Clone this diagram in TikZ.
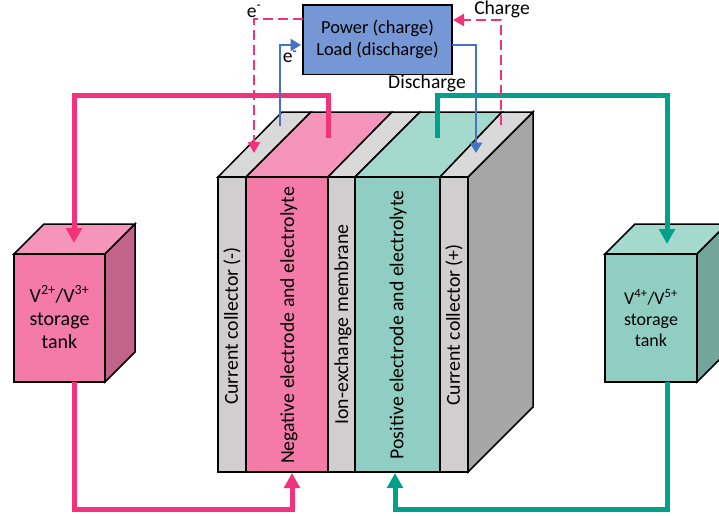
\documentclass[tikz,border=0pt]{standalone}
\usepackage{fontspec}
\setmainfont{Carlito}
\usetikzlibrary{arrows.meta}
\definecolor{pinkF}{HTML}{F47BA8}
\definecolor{pinkT}{HTML}{F695BB}
\definecolor{pinkS}{HTML}{C2648A}
\definecolor{greenF}{HTML}{90CEC4}
\definecolor{greenT}{HTML}{A4D9CE}
\definecolor{greenS}{HTML}{74A59D}
\definecolor{grayF}{HTML}{D0CECE}
\definecolor{grayT}{HTML}{D9D9D9}
\definecolor{grayS}{HTML}{A6A6A6}
\definecolor{boxblue}{HTML}{7597D5}
\definecolor{linepink}{HTML}{F2327A}
\definecolor{linegreen}{HTML}{00A08A}
\definecolor{lineblue}{HTML}{4472C4}
\tikzset{
  face/.style={draw=black,line width=1.5pt,line join=miter},
  pipe/.style={line width=5pt,-{Triangle[width=15.5pt,length=15pt]}},
  wire/.style={line width=2.6pt,lineblue,-{Triangle[width=12pt,length=10.5pt]}},
  dashwire/.style={line width=2.4pt,linepink,dash pattern=on 10pt off 5pt,-{Triangle[width=12pt,length=11pt,sep=0pt]}},
  lab/.style={inner sep=0pt,font=\fontsize{19.6}{23}\selectfont,align=center},
  vlab/.style={lab,rotate=90,font=\fontsize{19.8}{23}\selectfont},
}
\begin{document}
\begin{tikzpicture}[x=1pt,y=-1pt]
\useasboundingbox (0,0) rectangle (719,515);
% stack
\draw[face,fill=grayS] (468,177) -- (533,112) -- (533,407) -- (468,472) -- cycle;
\draw[face,fill=grayT] (218,177) -- (282,112) -- (311,112) -- (246,177) -- cycle;
\draw[face,fill=pinkT] (246,177) -- (311,112) -- (392,112) -- (328,177) -- cycle;
\draw[face,fill=grayT] (328,177) -- (392,112) -- (420,112) -- (355,177) -- cycle;
\draw[face,fill=greenT] (355,177) -- (420,112) -- (502,112) -- (440,177) -- cycle;
\draw[face,fill=grayT] (440,177) -- (502,112) -- (533,112) -- (468,177) -- cycle;
\node[face,fill=grayF,minimum width=28pt,minimum height=295pt,inner sep=0pt,outer sep=0pt] (cc1) at (232,324.5) {};
\node[face,fill=pinkF,minimum width=82pt,minimum height=295pt,inner sep=0pt,outer sep=0pt] (neg) at (287,324.5) {};
\node[face,fill=grayF,minimum width=27pt,minimum height=295pt,inner sep=0pt,outer sep=0pt] (mem) at (341.5,324.5) {};
\node[face,fill=greenF,minimum width=85pt,minimum height=295pt,inner sep=0pt,outer sep=0pt] (pos) at (397.5,324.5) {};
\node[face,fill=grayF,minimum width=28pt,minimum height=295pt,inner sep=0pt,outer sep=0pt] (cc2) at (454,324.5) {};
\node[vlab] (t1) at (232,326) {Current collector (-)};
\node[vlab] (t2) at (289,325.5) {Negative electrode and electrolyte};
\node[vlab] (t3) at (343,324.5) {Ion-exchange membrane};
\node[vlab] (t4) at (398,325) {Positive electrode and electrolyte};
\node[vlab] (t5) at (454,325) {Current collector (+)};
% left tank
\draw[face,fill=pinkT] (14,254) -- (44,224) -- (135,224) -- (105,254) -- cycle;
\draw[face,fill=pinkS] (105,254) -- (135,224) -- (135,352) -- (105,382) -- cycle;
\node[face,fill=pinkF,minimum width=91pt,minimum height=128pt,inner sep=0pt,outer sep=0pt] (tankL) at (59.5,318) {};
\node[lab,font=\fontsize{20}{23}\selectfont] (tankLt) at (59.5,317) {V\textsuperscript{2+}/V\textsuperscript{3+}\\storage\\tank};
% right tank
\draw[face,fill=greenT] (605,254) -- (635,224) -- (727,224) -- (697,254) -- cycle;
\draw[face,fill=greenS] (697,254) -- (727,224) -- (727,352) -- (697,382) -- cycle;
\node[face,fill=greenF,minimum width=92pt,minimum height=128pt,inner sep=0pt,outer sep=0pt] (tankR) at (651,318) {};
\node[lab,font=\fontsize{18}{21}\selectfont] (tankRt) at (651,318) {V\textsuperscript{4+}/V\textsuperscript{5+}\\storage\\tank};
% power box
\node[face,fill=boxblue,minimum width=149pt,minimum height=69.5pt,inner sep=0pt,outer sep=0pt] (pw) at (377.5,39.5) {};
\node[lab,font=\fontsize{18.4}{22}\selectfont] (pwt) at (377.5,39.5) {Power (charge)\\Load (discharge)};
% anchors for free ends
\coordinate (negtop) at (328,138);
\coordinate (postop) at (437,138);
\coordinate (ltop) at (74,243);
\coordinate (rtop) at (667,244);
\coordinate (lbot) at (74,382);
\coordinate (rbot) at (667,382);
\coordinate (negbot) at (292,473);
\coordinate (posbot) at (395,473);
% electrolyte pipes
\draw[pipe,linepink] (negtop) -- (328,95) -- (74,95) -- (ltop);
\draw[pipe,linegreen] (postop) -- (437,95) -- (667,95) -- (rtop);
\draw[pipe,linepink] (lbot) -- (74,509) -- (292,509) -- (negbot);
\draw[pipe,linegreen] (rbot) -- (667,509) -- (395,509) -- (posbot);
% wires
\coordinate (bl) at (280,126);
\coordinate (bl2) at (280,45);
\coordinate (blin) at (301,45);
\coordinate (br) at (476,45);
\coordinate (brtip) at (476,153);
\coordinate (dl) at (254,19);
\coordinate (dltip) at (254,153);
\coordinate (dr) at (501,125);
\coordinate (dr2) at (501,20);
\coordinate (drtip) at (453,20);
\draw[wire] (bl) -- (bl2) -- (blin);
\draw[wire] (452,45) -- (br) -- (brtip);
\draw[dashwire] (303,19) -- (dl) -- (dltip);
\draw[dashwire] (dr) -- (dr2) -- (drtip);
% labels
\node[lab] (e1) at (254,11.5) {e\textsuperscript{-}};
\node[lab] (e2) at (290,57) {e\textsuperscript{-}};
\node[lab] (chg) at (502,9.5) {Charge};
\node[lab] (dis) at (427,83) {Discharge};
\end{tikzpicture}
\end{document}
